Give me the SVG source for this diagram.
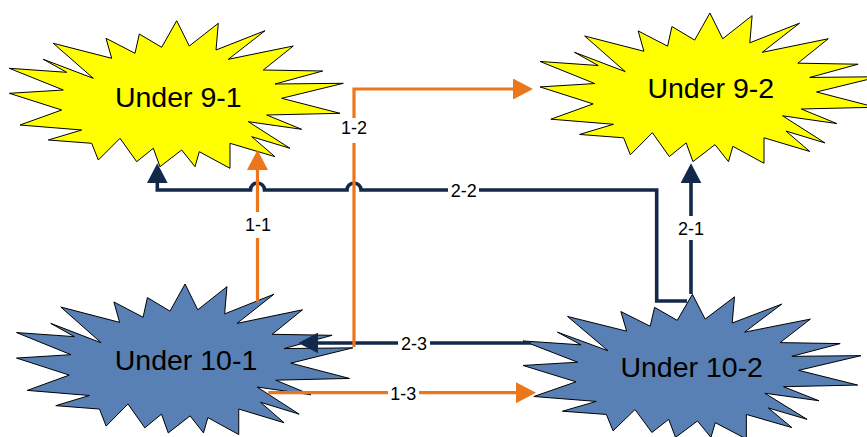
<svg xmlns="http://www.w3.org/2000/svg" width="867" height="437" viewBox="0 0 867 437">
  <style>
    .star { stroke: #000; stroke-width: 1; stroke-linejoin: miter; }
    .yellow { fill: #FFFF00; }
    .blue { fill: #5880B4; }
    .title { font-family: "Liberation Sans", Arial, sans-serif; font-size: 28.5px; fill: #000; text-anchor: middle; }
    .lbl { font-family: "Liberation Sans", Arial, sans-serif; font-size: 18px; fill: #000; text-anchor: middle; }
    .lblbg { fill: #fff; }
    .orange { fill: none; stroke: #EB761C; stroke-width: 3.2; }
    .navy { fill: none; stroke: #13294A; stroke-width: 3.6; }
  </style>
  <defs>
    <!-- explosion outline, drawn in the frame of the top-left node -->
    <path id="burst" d="M176.7,20.7 L189.3,46 L218.3,23.3 L216,50 L265,30.7 L228.3,59.3 L293.3,46 L263.3,70 L322.7,71 L275,84 L343.3,83.3 L281.7,98.3 L340,113.3 L266.7,115 L301.7,129.3 L248.3,121.7 L290,148.3 L251.7,136.7 L275,156.7 L230,143.3 L230,168.3 L199.3,151.7 L195,166.7 L181.7,150 L160,166.7 L153.3,148.3 L136.7,161.7 L120,138.3 L98.3,160 L91.7,143.3 L48.3,140 L81.7,130 L20,125 L61.7,110 L9.3,93.3 L63.3,90 L9.3,68.3 L66.7,72.3 L43.3,59.3 L93.3,78.3 L53.3,43.3 L111.7,58.3 L106,38.3 L135,53.3 L139.3,34 L161.7,47.3 Z" vector-effect="non-scaling-stroke"/>
    <marker id="headOrange" viewBox="0 0 20 21" refX="1" refY="10.5" markerWidth="20" markerHeight="21" markerUnits="userSpaceOnUse" orient="auto">
      <path d="M0,0 L20,10.5 L0,21 Z" fill="#EB761C"/>
    </marker>
    <marker id="headNavy" viewBox="0 0 20 21" refX="1" refY="10.5" markerWidth="20" markerHeight="21" markerUnits="userSpaceOnUse" orient="auto">
      <path d="M0,0 L20,10.5 L0,21 Z" fill="#13294A"/>
    </marker>
  </defs>

  <g id="under-9-1">
    <use href="#burst" class="star yellow"/>
    <text class="title" x="178.3" y="106.7">Under 9-1</text>
  </g>

  <g id="under-9-2">
    <use href="#burst" class="star yellow" transform="translate(540,13) scale(1.015,1.018) translate(-9.3,-20.7)"/>
    <text class="title" x="710.8" y="97.7">Under 9-2</text>
  </g>

  <g id="under-10-1">
    <use href="#burst" class="star blue" transform="translate(16.5,284) scale(1.007,1.02) translate(-9.3,-20.7)"/>
    <text class="title" x="186" y="370">Under 10-1</text>
  </g>

  <g id="under-10-2">
    <use href="#burst" class="star blue" transform="translate(523,294.3) scale(1.012,0.98) translate(-9.3,-20.7)"/>
    <text class="title" x="691.7" y="376.7">Under 10-2</text>
  </g>

  <g id="connectors">
    <!-- 2-2: from Under 10-2 round to Under 9-1, hopping over the orange lines -->
    <path class="navy" d="M687,301 H656.7 V190 H361 A7,7 0 0 0 347,190 H264.5 A7,7 0 0 0 250.5,190 H157.3 V182.3" marker-end="url(#headNavy)"/>
    <!-- 2-1 -->
    <path class="navy" d="M691,294 V182.3" marker-end="url(#headNavy)"/>
    <!-- 2-3 -->
    <path class="navy" d="M531,343 H317.3" marker-end="url(#headNavy)"/>
    <!-- 1-1 -->
    <path class="orange" d="M257.5,301.7 V169" marker-end="url(#headOrange)"/>
    <!-- 1-2 -->
    <path class="orange" d="M354,347 V89 H514" marker-end="url(#headOrange)"/>
    <!-- 1-3 -->
    <path class="orange" d="M268.3,392.7 H517" marker-end="url(#headOrange)"/>

    <rect class="lblbg" x="243" y="212" width="30" height="26"/>
    <text class="lbl" x="258" y="230.7">1-1</text>
    <rect class="lblbg" x="339" y="118" width="30" height="25"/>
    <text class="lbl" x="354" y="134.3">1-2</text>
    <rect class="lblbg" x="388" y="384" width="31" height="20"/>
    <text class="lbl" x="403.3" y="400">1-3</text>
    <rect class="lblbg" x="676" y="216" width="30" height="24"/>
    <text class="lbl" x="691" y="235">2-1</text>
    <rect class="lblbg" x="448" y="181" width="31" height="18"/>
    <text class="lbl" x="463.7" y="196.5">2-2</text>
    <rect class="lblbg" x="398" y="334" width="32" height="18"/>
    <text class="lbl" x="414" y="349.5">2-3</text>
  </g>
</svg>
